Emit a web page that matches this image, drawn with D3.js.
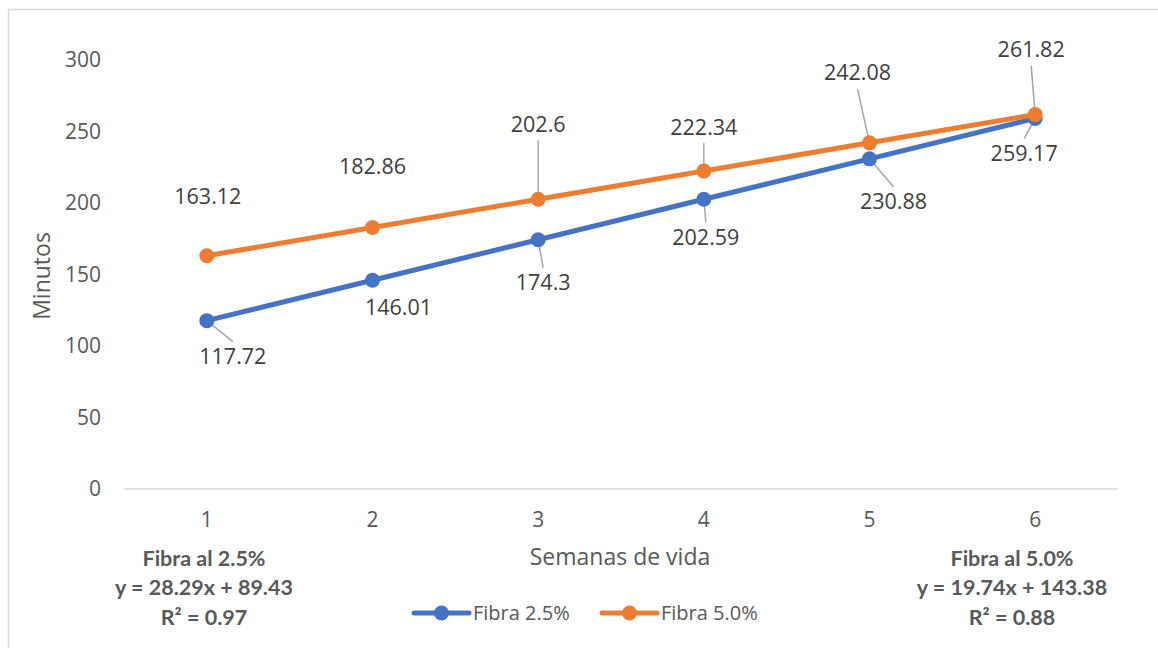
<!DOCTYPE html>
<html>
<head>
<meta charset="utf-8">
<script src="https://cdn.jsdelivr.net/npm/d3@7"></script>
<style>
  body { margin: 0; background: #fff; }
  text { font-family: "Open Sans", sans-serif; }
</style>
</head>
<body>
<div id="chart"></div>
<script>
// data
var weeks = [1, 2, 3, 4, 5, 6];
var fibra25 = [117.72, 146.01, 174.3, 202.59, 230.88, 259.17];
var fibra50 = [163.12, 182.86, 202.6, 222.34, 242.08, 261.82];
var seriesNames = ["Fibra 2.5%", "Fibra 5.0%"];
var yTicks = [0, 50, 100, 150, 200, 250, 300];
var trend25 = ["Fibra al 2.5%", "y = 28.29x + 89.43", "R² = 0.97"];
var trend50 = ["Fibra al 5.0%", "y = 19.74x + 143.38", "R² = 0.88"];

// label placement (px offsets from the point), leader flag
var off25 = [[26, 36, 1], [26, 27, 0], [5, 43, 1], [2, 38, 1], [24, 43, 1], [-11, 35, 1]];
var off50 = [[1, -59, 0], [0, -61, 0], [0, -75, 1], [0, -44, 1], [-12, -70, 1], [-4, -65, 1]];

var W = 1158, H = 648;
var blue = "#4472C4", orange = "#ED7D31";

var svg = d3.select("#chart").append("svg")
    .attr("width", W).attr("height", H);

// outer frame
svg.append("rect")
    .attr("x", 8.5).attr("y", 9.5)
    .attr("width", 1200).attr("height", 700)
    .attr("fill", "none").attr("stroke", "#d9d9d9").attr("stroke-width", 1.5);

var x = d3.scaleBand().domain(weeks).range([124, 1118]);
var y = d3.scaleLinear().domain([0, 300]).range([489, 60]);
var cx = function(d) { return x(d) + x.bandwidth() / 2; };

// baseline
svg.append("line")
    .attr("x1", 124).attr("x2", 1118)
    .attr("y1", y(0)).attr("y2", y(0))
    .attr("stroke", "#d9d9d9").attr("stroke-width", 1.3);

// y tick labels
svg.append("g").selectAll("text").data(yTicks).enter().append("text")
    .attr("x", 101).attr("y", function(d) { return y(d); })
    .attr("dy", "0.35em")
    .attr("text-anchor", "end")
    .attr("font-size", 21).attr("fill", "#595959")
    .text(function(d) { return d; });

// x tick labels
svg.append("g").selectAll("text").data(weeks).enter().append("text")
    .attr("x", cx).attr("y", 520)
    .attr("dy", "0.35em")
    .attr("text-anchor", "middle")
    .attr("font-size", 21).attr("fill", "#595959")
    .text(function(d) { return d; });

// axis titles
svg.append("text")
    .attr("transform", "translate(42,276) rotate(-90)")
    .attr("dy", "0.35em")
    .attr("text-anchor", "middle")
    .attr("font-size", 23).attr("fill", "#595959")
    .text("Minutos");

svg.append("text")
    .attr("x", 620).attr("y", 557)
    .attr("dy", "0.35em")
    .attr("text-anchor", "middle")
    .attr("font-size", 23).attr("fill", "#595959")
    .text("Semanas de vida");

var line = d3.line()
    .x(function(d, i) { return cx(weeks[i]); })
    .y(function(d) { return y(d); });

function drawSeries(vals, offs, color) {
  var g = svg.append("g");
  // leader lines first
  g.selectAll("line.lead").data(vals).enter()
    .filter(function(d, i) { return offs[i][2]; })
    .append("line")
    .attr("class", "lead")
    .attr("x1", function(d) { var i = vals.indexOf(d); return cx(weeks[i]) + offs[i][0]; })
    .attr("y1", function(d) { var i = vals.indexOf(d); return y(d) + offs[i][1] + (offs[i][1] > 0 ? -15 : 16); })
    .attr("x2", function(d) { var i = vals.indexOf(d); return cx(weeks[i]); })
    .attr("y2", function(d) { return y(d); })
    .attr("stroke", "#a6a6a6").attr("stroke-width", 1.5);

  g.append("path").datum(vals)
    .attr("d", line)
    .attr("fill", "none").attr("stroke", color)
    .attr("stroke-width", 5).attr("stroke-linecap", "round");

  g.selectAll("circle").data(vals).enter().append("circle")
    .attr("cx", function(d, i) { return cx(weeks[i]); })
    .attr("cy", function(d) { return y(d); })
    .attr("r", 7.5).attr("fill", color);
  return g;
}

function drawLabels(g, vals, offs) {
  g.selectAll("text").data(vals).enter().append("text")
    .attr("x", function(d, i) { return cx(weeks[i]) + offs[i][0]; })
    .attr("y", function(d, i) { return y(d) + offs[i][1]; })
    .attr("dy", "0.35em")
    .attr("text-anchor", "middle")
    .attr("font-size", 21.5).attr("fill", "#404040")
    .text(function(d) { return d; });
}

var g25 = drawSeries(fibra25, off25, blue);
var g50 = drawSeries(fibra50, off50, orange);
drawLabels(g25, fibra25, off25);
drawLabels(g50, fibra50, off50);

// trendline annotations
function trendText(lines, xc) {
  svg.append("g").selectAll("text").data(lines).enter().append("text")
    .attr("x", xc).attr("y", function(d, i) { return 558 + i * 29.5; })
    .attr("dy", "0.35em")
    .attr("text-anchor", "middle")
    .style("font-family", "Lato, sans-serif")
    .attr("font-weight", "bold")
    .attr("font-size", 21.5).attr("fill", "#595959")
    .text(function(d) { return d; });
}
trendText(trend25, 204);
trendText(trend50, 1012);

// legend
var legX = [414, 602];
var leg = svg.append("g").selectAll("g").data(seriesNames).enter().append("g")
    .attr("transform", function(d, i) { return "translate(" + legX[i] + ",613)"; });
leg.append("line")
    .attr("x1", 0).attr("x2", 55).attr("y1", 0).attr("y2", 0)
    .attr("stroke", function(d, i) { return i ? orange : blue; })
    .attr("stroke-width", 5).attr("stroke-linecap", "round");
leg.append("circle")
    .attr("cx", 27.5).attr("cy", 0).attr("r", 7.5)
    .attr("fill", function(d, i) { return i ? orange : blue; });
leg.append("text")
    .attr("x", 59).attr("y", 0).attr("dy", "0.35em")
    .attr("font-size", 20).attr("fill", "#595959")
    .text(function(d) { return d; });
</script>
</body>
</html>
